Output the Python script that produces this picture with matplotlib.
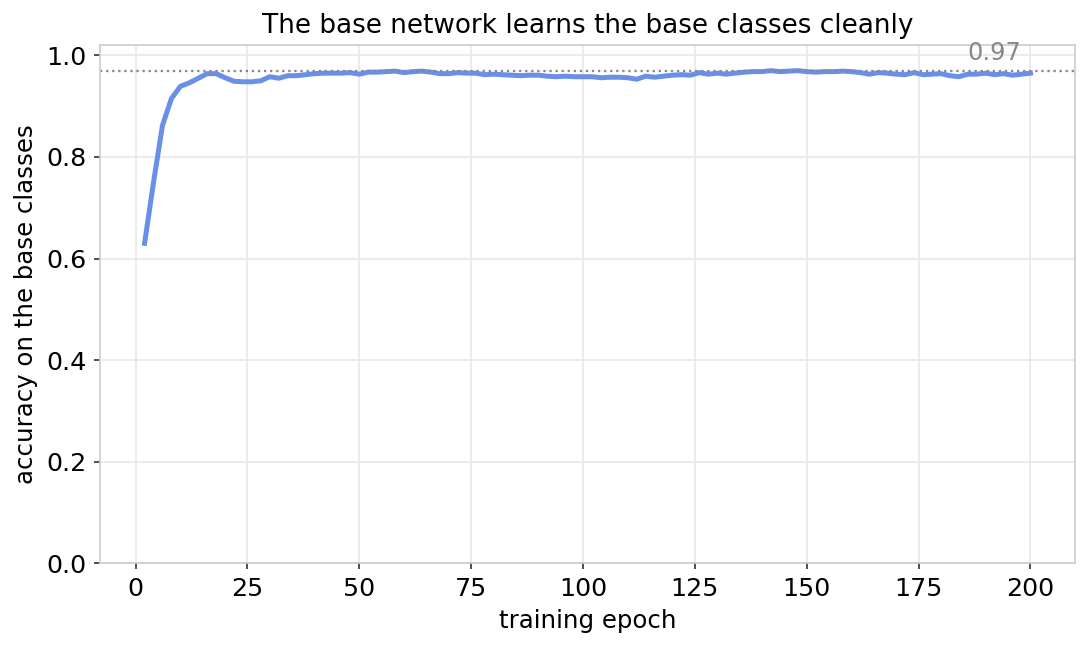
import numpy as np
import matplotlib
matplotlib.use("Agg")
import matplotlib.pyplot as plt

# epochs logged every 2 steps
epochs = np.arange(2, 201, 2)
base_acc = [
    0.630, 0.750, 0.862, 0.915, 0.939, 0.946, 0.955, 0.964, 0.964, 0.956,
    0.949, 0.948, 0.948, 0.950, 0.958, 0.955, 0.960, 0.960, 0.962, 0.964,
    0.965, 0.965, 0.965, 0.966, 0.963, 0.967, 0.967, 0.968, 0.969, 0.966,
    0.968, 0.969, 0.967, 0.964, 0.964, 0.966, 0.965, 0.965, 0.962, 0.963,
    0.962, 0.961, 0.960, 0.961, 0.961, 0.959, 0.958, 0.959, 0.958, 0.958,
    0.958, 0.956, 0.957, 0.957, 0.956, 0.953, 0.959, 0.957, 0.959, 0.961,
    0.962, 0.961, 0.966, 0.963, 0.965, 0.963, 0.965, 0.967, 0.968, 0.968,
    0.970, 0.968, 0.969, 0.970, 0.968, 0.967, 0.968, 0.968, 0.969, 0.968,
    0.966, 0.963, 0.966, 0.965, 0.963, 0.962, 0.966, 0.962, 0.963, 0.964,
    0.960, 0.958, 0.963, 0.963, 0.965, 0.962, 0.964, 0.961, 0.963, 0.965,
]
final_acc = 0.97
yticks = [0.0, 0.2, 0.4, 0.6, 0.8, 1.0]
xticks = [0, 25, 50, 75, 100, 125, 150, 175, 200]

plt.rcParams['font.family'] = ['DejaVu Sans']

fig, ax = plt.subplots(figsize=(10.9 / 1.5, 6.46 / 1.5), dpi=150)

ax.plot(epochs, base_acc, color="#6a8fe8", lw=2.4)
ax.axhline(final_acc, color="#888888", ls=":", lw=1.1)
ax.text(epochs[-1] - 2, final_acc + 0.012, f"{final_acc:.2f}", color="#888888",
        fontsize=11.5, ha="right", va="bottom")

ax.set_ylim(0, 1.02)
ax.set_yticks(yticks)
ax.set_xticks(xticks)
ax.grid(True, color="#e8e8e8", lw=0.8)
ax.set_axisbelow(True)
for sp in ax.spines.values():
    sp.set_color("#cccccc")
ax.tick_params(labelsize=12.2, color="#333333", length=3)

ax.set_xlabel("training epoch", fontsize=11.7)
ax.set_ylabel("accuracy on the base classes", fontsize=11.7)
ax.set_title("The base network learns the base classes cleanly", fontsize=12.6)

fig.subplots_adjust(left=0.092, right=0.986, bottom=0.128, top=0.93)
fig.savefig("out.png", dpi=150)
